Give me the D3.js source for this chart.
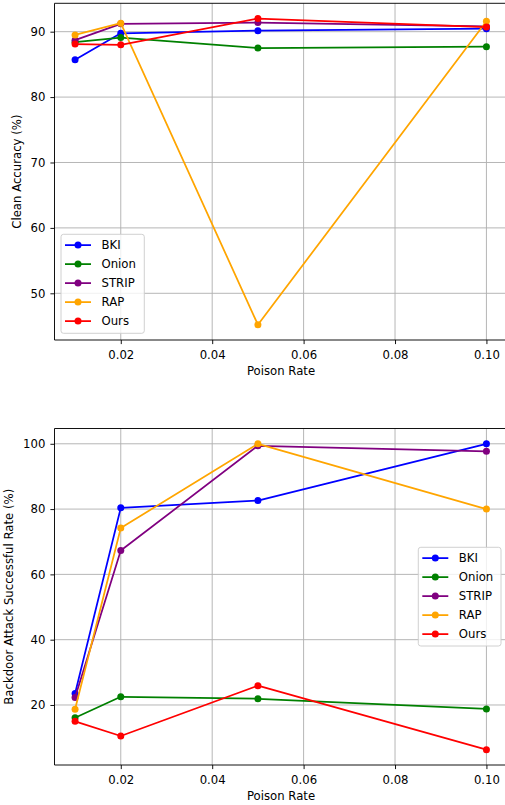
<!DOCTYPE html>
<html>
<head>
<meta charset="utf-8">
<script src="https://cdn.jsdelivr.net/npm/d3@7"></script>
<style>
  body { margin: 0; background: #fff; }
  svg { display: block; font-family: "DejaVu Sans", sans-serif; }
</style>
</head>
<body>
<div id="app"></div>
<script>
const rates = [0.01, 0.02, 0.05, 0.1];
const methods = ['BKI', 'Onion', 'STRIP', 'RAP', 'Ours'];
const colors = ['blue', 'green', 'purple', 'orange', 'red'];

// Clean accuracy (%)
const accBKI   = [85.7, 89.75, 90.15, 90.45];
const accOnion = [88.4, 89.1, 87.5, 87.7];
const accSTRIP = [88.7, 91.2, 91.4, 90.8];
const accRAP   = [89.5, 91.3, 45.2, 91.6];
const accOurs  = [88.1, 88.0, 92.0, 90.7];

// Backdoor attack successful rate (%)
const asrBKI   = [23.5, 80.4, 82.6, 100.0];
const asrOnion = [16.1, 22.5, 21.9, 18.8];
const asrSTRIP = [22.3, 67.3, 99.4, 97.7];
const asrRAP   = [18.7, 74.2, 100.0, 80.0];
const asrOurs  = [15.0, 10.5, 25.9, 6.3];

const xTicks = [0.02, 0.04, 0.06, 0.08, 0.10];
const accTicks = [50, 60, 70, 80, 90];
const asrTicks = [20, 40, 60, 80, 100];

const W = 505, H = 805;
const fs = 11.7;      // 10pt at the figure's dpi
const lw = 1.75;
const mr = 3.5;
const svg = d3.select('#app').append('svg').attr('width', W).attr('height', H);

const pad = (arr) => {
  const [lo, hi] = d3.extent(arr);
  const m = (hi - lo) * 0.05;
  return [lo - m, hi + m];
};

const drawPanel = ({ id, top, bottom, series, yTicks, yLabel, legend }) => {
  const left = 54.5, right = 507;
  const x = d3.scaleLinear().domain(pad(rates)).range([left, right]);
  const y = d3.scaleLinear().domain(pad(series.flat())).range([bottom, top]);
  const g = svg.append('g');

  g.append('clipPath').attr('id', id)
    .append('rect').attr('x', left).attr('y', top)
    .attr('width', right - left).attr('height', bottom - top);

  // grid
  g.append('g').selectAll('line').data(xTicks).join('line')
    .attr('x1', d => x(d)).attr('x2', d => x(d))
    .attr('y1', top).attr('y2', bottom)
    .attr('stroke', '#b0b0b0').attr('stroke-width', 0.93);
  g.append('g').selectAll('line').data(yTicks).join('line')
    .attr('x1', left).attr('x2', right)
    .attr('y1', d => y(d)).attr('y2', d => y(d))
    .attr('stroke', '#b0b0b0').attr('stroke-width', 0.93);

  // series
  const line = d3.line().x((_, i) => x(rates[i])).y(d => y(d));
  const plot = g.append('g').attr('clip-path', `url(#${id})`);
  series.forEach((vals, k) => {
    plot.append('path').attr('d', line(vals))
      .attr('fill', 'none').attr('stroke', colors[k]).attr('stroke-width', lw)
      .attr('stroke-linejoin', 'round');
    plot.append('g').selectAll('circle').data(vals).join('circle')
      .attr('cx', (_, i) => x(rates[i])).attr('cy', d => y(d))
      .attr('r', mr).attr('fill', colors[k]);
  });

  // axes
  const xAxis = g.append('g').attr('transform', `translate(0,${bottom})`)
    .call(d3.axisBottom(x).tickValues(xTicks).tickFormat(d3.format('.2f'))
      .tickSizeInner(4.1).tickSizeOuter(0).tickPadding(6.4));
  const yAxis = g.append('g').attr('transform', `translate(${left},0)`)
    .call(d3.axisLeft(y).tickValues(yTicks).tickFormat(d3.format('d'))
      .tickSizeInner(4.1).tickSizeOuter(0).tickPadding(5));
  [xAxis, yAxis].forEach(a => {
    a.select('.domain').remove();
    a.selectAll('text').attr('font-size', fs).attr('fill', '#000')
      .attr('font-family', '"DejaVu Sans", sans-serif');
    a.selectAll('line').attr('stroke', '#000').attr('stroke-width', 0.93);
  });

  // spines
  g.append('path')
    .attr('d', `M${right},${top}H${left}V${bottom}H${right}`)
    .attr('fill', 'none').attr('stroke', '#000').attr('stroke-width', 0.93);

  g.append('text').attr('x', 281).attr('y', bottom + 35)
    .attr('text-anchor', 'middle').attr('font-size', fs).text('Poison Rate');
  g.append('text')
    .attr('transform', `translate(${legend.ylx},${(top + bottom) / 2}) rotate(-90)`)
    .attr('text-anchor', 'middle').attr('font-size', fs).text(yLabel);

  // legend
  const L = legend;
  g.append('rect').attr('x', L.x).attr('y', L.y).attr('width', L.w).attr('height', L.h)
    .attr('rx', 2.5).attr('fill', 'rgba(255,255,255,0.8)')
    .attr('stroke', '#cccccc').attr('stroke-width', 0.93);
  methods.forEach((m, k) => {
    const cy = L.y + 10.8 + k * L.step;
    g.append('line').attr('x1', L.x + 4).attr('x2', L.x + 30)
      .attr('y1', cy).attr('y2', cy)
      .attr('stroke', colors[k]).attr('stroke-width', lw);
    g.append('circle').attr('cx', L.x + 17).attr('cy', cy).attr('r', mr).attr('fill', colors[k]);
    g.append('text').attr('x', L.x + 40.5).attr('y', cy).attr('dy', '0.35em')
      .attr('font-size', fs).text(m);
  });
};

drawPanel({
  id: 'clipA', top: 3.3, bottom: 340,
  series: [accBKI, accOnion, accSTRIP, accRAP, accOurs],
  yTicks: accTicks, yLabel: 'Clean Accuracy (%)',
  legend: { x: 61, y: 234.3, w: 83.3, h: 99, step: 19, ylx: 21 }
});

drawPanel({
  id: 'clipB', top: 428.5, bottom: 765,
  series: [asrBKI, asrOnion, asrSTRIP, asrRAP, asrOurs],
  yTicks: asrTicks, yLabel: 'Backdoor Attack Successful Rate (%)',
  legend: { x: 418.3, y: 547.3, w: 82.7, h: 98.7, step: 19, ylx: 13 }
});
</script>
</body>
</html>
